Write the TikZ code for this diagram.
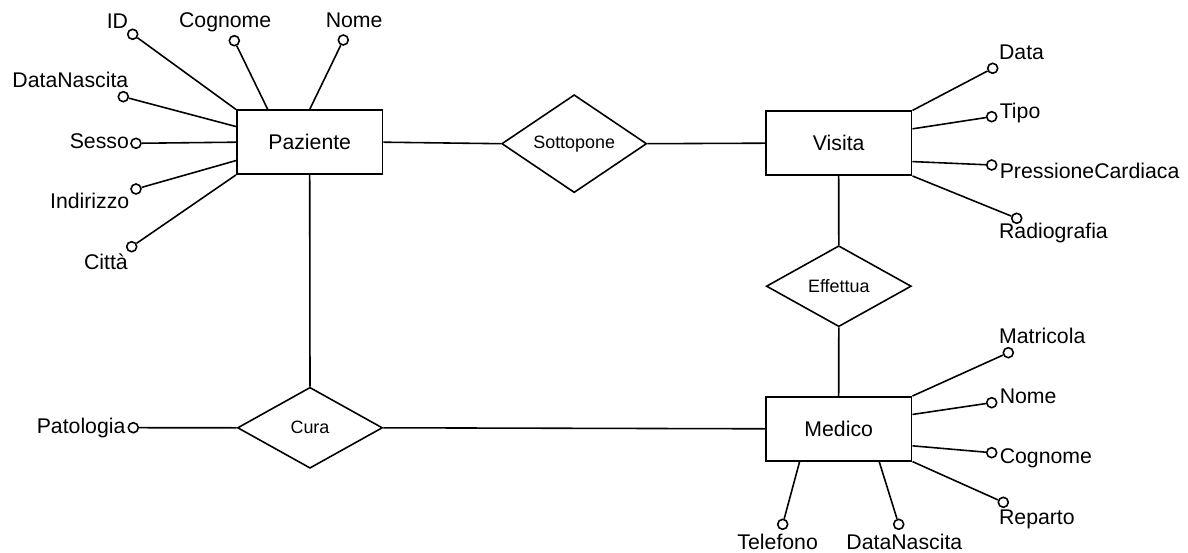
\documentclass[tikz,border=0pt]{standalone}
\usepackage{fontspec}
\setmainfont{Liberation Sans}
\usetikzlibrary{shapes.geometric}

\begin{document}
\begin{tikzpicture}[x=0.02cm, y=-0.02cm, line width=0.9pt,
	entity/.style={draw, rectangle, minimum width=2.92cm, minimum height=1.28cm, font=\fontsize{12.1}{14}\selectfont},
	relation/.style={draw, diamond, minimum width=2.9cm, minimum height=1.62cm, inner sep=0pt, font=\fontsize{10.2}{12}\selectfont},
	attr/.style={draw, circle, fill=white, minimum size=0.2cm, inner sep=0pt},
	attrname/.style={anchor=base west, inner sep=0pt, font=\fontsize{12.1}{14}\selectfont}]
			\useasboundingbox (0,0) rectangle (1188,553);
			
			\node[entity] (paz) at (309.7,142.2) {Paziente};
			\node[entity] (vis) at (838.7,143.2) {Visita};
			\node[entity] (med) at (838.7,428.8) {Medico};
			\node[relation] (sott) at (574.2,143.7) {Sottopone};
			\node[relation] (eff) at (838.8,286.2) {Effettua};
			\node[relation] (cura) at (310,427.8) {Cura};
			
			\draw (paz.east)--(sott.west)  (sott.east)--(vis.west);
			\draw (vis.south)--(eff.north)  (eff.south)--(med.north);
			\draw (paz.south)--(cura.north)  (cura.east)--(med.west);
			
			\node[attr] (aID) at (132.7,34.3){};
			\node[attr] (aCogP) at (234.3,40.7){};
			\node[attr] (aNomeP) at (343.3,40){};
			\node[attr] (aNascP) at (123.3,96.7){};
			\node[attr] (aSesso) at (136,143.3){};
			\node[attr] (aInd) at (136,189){};
			\node[attr] (aCitta) at (131.7,246.7){};
			\node[attr] (aPat) at (133.3,427.7){};
			\draw (aID)--(paz.north west)  (aCogP)--(paz.142)  (aNomeP)--(paz.90);
			\draw (aNascP)--(paz.168)  (aSesso)--(paz.west)  (aInd)--(paz.194);
			\draw (aCitta)--(paz.south west)  (aPat)--(cura.west);
			\node[attrname] (tID) at (106,28.3){ID};
			\node[attrname] (tCogP) at (178.3,27.5){Cognome};
			\node[attrname] (tNomeP) at (325,27.5){Nome};
			\node[attrname] (tNascP) at (11.7,87.5){DataNascita};
			\node[attrname] (tSesso) at (69,148.3){Sesso};
			\node[attrname] (tInd) at (49.3,208.3){Indirizzo};
			\node[attrname] (tCitta) at (83.3,269.3){Città};
			\node[attrname] (tPat) at (36,434){Patologia};
			
			\node[attr] (aData) at (992.7,68.3){};
			\node[attr] (aTipo) at (991.7,116.7){};
			\node[attr] (aPress) at (991.7,165){};
			\node[attr] (aRadio) at (1016.7,218.3){};
			\draw (aData)--(vis.north east)  (aTipo)--(vis.11.5);
			\draw (aPress)--(vis.346.5)  (aRadio)--(vis.south east);
			\node[attrname] (tData) at (998.3,59.3){Data};
			\node[attrname] (tTipo) at (999,119){Tipo};
			\node[attrname] (tPress) at (999,178.3){PressioneCardiaca};
			\node[attrname] (tRadio) at (998.3,239){Radiografia};
			
			\node[attr] (aMatr) at (1008.3,352.7){};
			\node[attr] (aNomeM) at (991.7,402.7){};
			\node[attr] (aCogM) at (991.7,452.7){};
			\node[attr] (aRep) at (1003.3,502.3){};
			\node[attr] (aTel) at (782.7,524.3){};
			\node[attr] (aNascM) at (898.7,524.3){};
			\draw (aMatr)--(med.north east)  (aNomeM)--(med.11.5);
			\draw (aCogM)--(med.347)  (aRep)--(med.south east);
			\draw (aTel)--(med.220.5)  (aNascM)--(med.321.4);
			\node[attrname] (tMatr) at (998.3,344){Matricola};
			\node[attrname] (tNomeM) at (999,404){Nome};
			\node[attrname] (tCogM) at (999,463.3){Cognome};
			\node[attrname] (tRep) at (998.3,524.3){Reparto};
			\node[attrname] (tTel) at (736.7,549.3){Telefono};
			\node[attrname] (tNascM) at (845.7,549.3){DataNascita};
		\end{tikzpicture}
\end{document}
